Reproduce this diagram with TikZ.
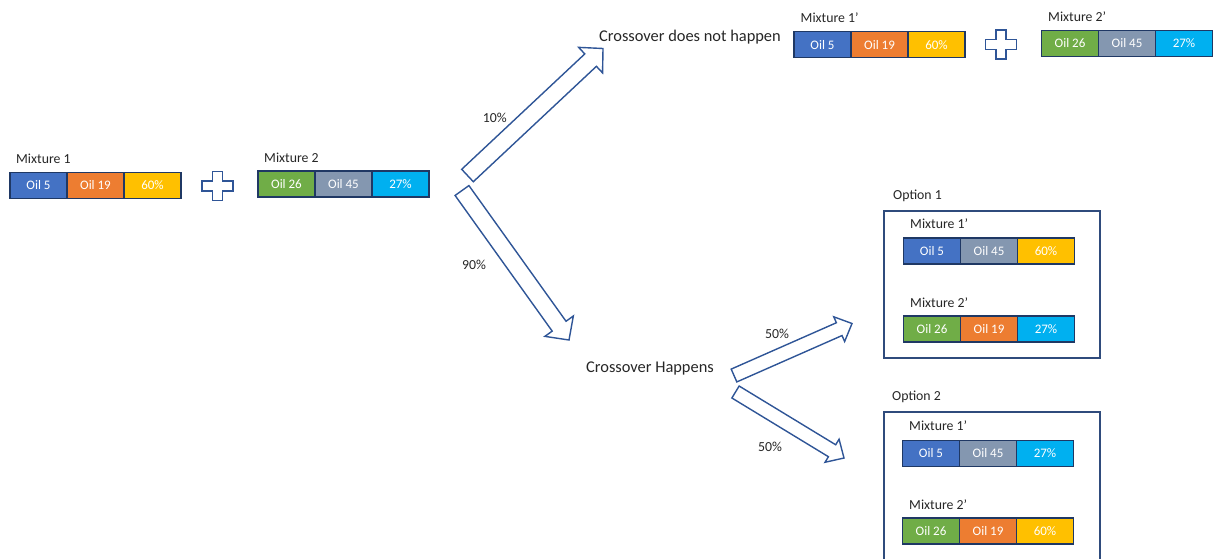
\documentclass[tikz,border=0pt]{standalone}
\usepackage{fontspec}
\setmainfont{Carlito}
\usetikzlibrary{calc}

\definecolor{oilfive}{HTML}{4472C4}
\definecolor{oilnineteen}{HTML}{ED7D31}
\definecolor{pctgold}{HTML}{FFC000}
\definecolor{oiltwentysix}{HTML}{70AD47}
\definecolor{oilfortyfive}{HTML}{8497B0}
\definecolor{pctcyan}{HTML}{00B0F0}
\definecolor{cellline}{HTML}{1F3864}
\definecolor{arrowline}{HTML}{2F5597}
\definecolor{frameline}{HTML}{2F4B7C}
\definecolor{labeltext}{HTML}{262626}

% three coloured cells in a row: name, west point, then colour/text pairs
\newcommand\oilbar[8]{%
  \node[cell, fill=#3] (#1a) at (#2) {#4};
  \node[cell, fill=#5] (#1b) at (#1a.east) {#6};
  \node[cell, fill=#7] (#1c) at (#1b.east) {#8};
}

% hollow block arrow: tail, tip, half shaft width, half head width, head length
\newcommand\blockarrow[5]{%
  \coordinate (ba-base) at ($(#2)!#5!(#1)$);
  \draw[blockline] ($(#1)!#3!90:(#2)$) -- ($(ba-base)!#3!90:(#2)$)
    -- ($(ba-base)!#4!90:(#2)$) -- (#2) -- ($(ba-base)!#4!-90:(#2)$)
    -- ($(ba-base)!#3!-90:(#2)$) -- ($(#1)!#3!-90:(#2)$) -- cycle;
}

\begin{document}
\begin{tikzpicture}[x=1pt,y=-1pt,
  cell/.style={draw=cellline, line width=1.1pt, minimum width=57pt,
    minimum height=26pt, inner sep=0pt, outer sep=0pt, anchor=west, text=white,
    font=\fontsize{13}{15}\selectfont},
  lbl/.style={inner sep=0pt, anchor=west, text=labeltext,
    font=\fontsize{13.8}{16}\selectfont},
  pct/.style={inner sep=0pt, text=labeltext, font=\fontsize{13.8}{16}\selectfont},
  headline/.style={inner sep=0pt, text=labeltext, font=\fontsize{16.4}{19}\selectfont},
  blockline/.style={draw=arrowline, line width=1.4pt, fill=white, line join=miter},
  optframe/.style={draw=frameline, line width=1.2pt},
  pics/plusmark/.style={code={
    \draw[blockline] (-5,-14.5) -- (5,-14.5) -- (5,-5) -- (15.5,-5) -- (15.5,5)
      -- (5,5) -- (5,14.5) -- (-5,14.5) -- (-5,5) -- (-15.5,5) -- (-15.5,-5)
      -- (-5,-5) -- cycle;}}
]
\useasboundingbox (0,0) rectangle (1214,558);
\clip (0,0) rectangle (1214,558);

% parent mixtures
\node[lbl] (labA) at (16,159) {Mixture 1};
\oilbar{mA}{10,185.5}{oilfive}{Oil 5}{oilnineteen}{Oil 19}{pctgold}{60\%}
\pic (plusA) at (217.5,186) {plusmark};
\node[lbl] (labB) at (264,157.5) {Mixture 2};
\oilbar{mB}{258,184}{oiltwentysix}{Oil 26}{oilfortyfive}{Oil 45}{pctcyan}{27\%}

% no crossover branch
\node[headline] (nocross) at (690,37) {Crossover does not happen};
\node[lbl] (labTA) at (800.5,18) {Mixture 1’};
\oilbar{tA}{794,44.8}{oilfive}{Oil 5}{oilnineteen}{Oil 19}{pctgold}{60\%}
\pic (plusT) at (1001,44.5) {plusmark};
\node[lbl] (labTB) at (1048,16.7) {Mixture 2’};
\oilbar{tB}{1041.5,43.2}{oiltwentysix}{Oil 26}{oilfortyfive}{Oil 45}{pctcyan}{27\%}

% crossover branch
\node[headline] (cross) at (650,368) {Crossover Happens};

% option 1
\node[lbl] (labO1) at (893,195.5) {Option 1};
\node[optframe, minimum width=216pt, minimum height=147pt, inner sep=0pt]
  (opt1) at (992,284.5) {};
\node[lbl] (labO1A) at (910,224) {Mixture 1’};
\oilbar{oA}{903.5,251}{oilfive}{Oil 5}{oilfortyfive}{Oil 45}{pctgold}{60\%}
\node[lbl] (labO1B) at (910,302.5) {Mixture 2’};
\oilbar{oB}{903.5,329}{oiltwentysix}{Oil 26}{oilnineteen}{Oil 19}{pctcyan}{27\%}

% option 2
\node[lbl] (labO2) at (892,397) {Option 2};
\node[optframe, minimum width=216pt, minimum height=170pt, inner sep=0pt]
  (opt2) at (992,497) {};
\node[lbl] (labO2A) at (909,426) {Mixture 1’};
\oilbar{pA}{902.5,453.5}{oilfive}{Oil 5}{oilfortyfive}{Oil 45}{pctcyan}{27\%}
\node[lbl] (labO2B) at (909,504.5) {Mixture 2’};
\oilbar{pB}{902.5,531}{oiltwentysix}{Oil 26}{oilnineteen}{Oil 19}{pctgold}{60\%}

% arrow end points
\coordinate (a1t) at (467.5,175.5);
\coordinate (a1h) at (603,48.5);
\coordinate (a2t) at (462,190.5);
\coordinate (a2h) at (569,340);
\coordinate (a3t) at (734,375.5);
\coordinate (a3h) at (852,323.5);
\coordinate (a4t) at (735.5,392);
\coordinate (a4h) at (844,458);

\blockarrow{a1t}{a1h}{8.5pt}{17.5pt}{17pt}
\blockarrow{a2t}{a2h}{8.5pt}{17.5pt}{17pt}
\blockarrow{a3t}{a3h}{7pt}{13.5pt}{14pt}
\blockarrow{a4t}{a4h}{7pt}{13.5pt}{14pt}

% branch probabilities
\node[pct] (p10) at (494.7,118) {10\%};
\node[pct] (p90) at (474,265) {90\%};
\node[pct] (p50a) at (777,333.5) {50\%};
\node[pct] (p50b) at (770,447) {50\%};
\end{tikzpicture}
\end{document}
